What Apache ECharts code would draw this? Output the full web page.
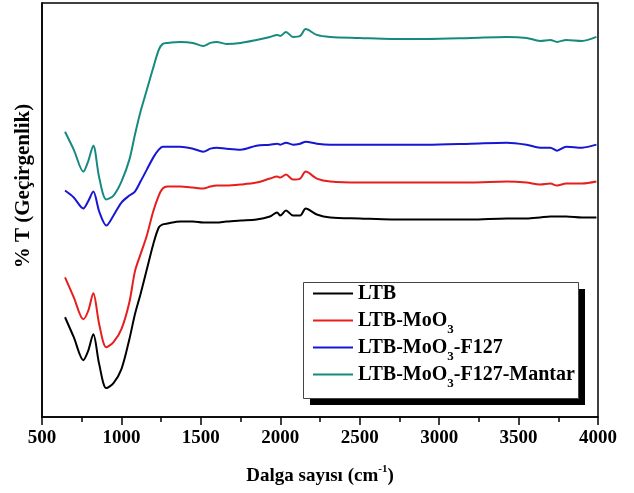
<!DOCTYPE html>
<html lang="tr">
<head>
    <meta charset="UTF-8">
    <title>FTIR</title>
    <script src="https://cdn.jsdelivr.net/npm/echarts@6/dist/echarts.min.js"></script>
</head>
<body style="margin:0;background:#fff;">
    <div id="main" style="width: 634px;height:493px;"></div>
    <script type="text/javascript">
       // dalga sayisi (cm-1)
       var wavenumbers = [645, 700, 760, 790, 823, 860, 905, 950, 1000, 1050, 1085, 1120, 1160, 1200, 1235, 1260, 1290, 1370, 1450, 1515,
                          1560, 1600, 1660, 1750, 1850, 1935, 1980, 2000, 2036, 2080, 2125, 2160, 2230, 2315, 2500, 2700, 2920, 3200,
                          3425, 3550, 3635, 3700, 3742, 3800, 3900, 3990];

       // % T, kaydirilmis (birimsiz)
       var ltb = [100, 80, 57, 66, 83, 53, 29, 34, 48, 78, 103, 123, 148, 173, 190, 193, 194, 196, 196, 195,
                  195, 195, 196, 197, 198, 201, 205, 202, 207, 202, 202, 209, 203, 200, 199, 198, 198, 198,
                  199, 199, 200, 201, 201, 201, 200, 200];
       var ltbMoO3 = [140, 120, 98, 106, 124, 93, 70, 75, 88, 115, 146, 163, 182, 206, 222, 229, 231, 231, 230, 229,
                      231, 232, 232, 233, 235, 239, 241, 240, 243, 238, 239, 246, 239, 236, 235, 235, 235, 235,
                      236, 235, 233, 234, 232, 234, 234, 236];
       var ltbMoO3F127 = [227, 220, 209, 216, 226, 206, 192, 202, 215, 222, 226, 236, 248, 260, 268, 271, 271, 271, 269, 266,
                          269, 270, 269, 268, 272, 273, 274, 273, 275, 273, 274, 276, 274, 273, 273, 273, 273, 274,
                          275, 273, 270, 270, 267, 271, 270, 273];
       var ltbMoO3F127Mantar = [286, 268, 246, 256, 272, 240, 218, 222, 236, 258, 283, 306, 328, 350, 368, 374, 375, 376, 375, 372,
                                375, 376, 374, 375, 378, 381, 383, 382, 386, 381, 382, 389, 383, 381, 380, 379, 379, 380,
                                381, 380, 377, 378, 376, 378, 377, 381];

       var names = ['LTB', 'LTB-MoO3', 'LTB-MoO3-F127', 'LTB-MoO3-F127-Mantar'];
       var colors = ['#000000', '#e61e1e', '#1616d4', '#178a80'];
       var values = [ltb, ltbMoO3, ltbMoO3F127, ltbMoO3F127Mantar];

       var font = 'Liberation Serif';

       function pairs(ys) {
           var out = [];
           for (var i = 0; i < wavenumbers.length; i++) {
               out.push([wavenumbers[i], ys[i]]);
           }
           return out;
       }

       var series = [];
       for (var i = 0; i < names.length; i++) {
           series.push({
               name: names[i],
               type: 'line',
               data: pairs(values[i]),
               smooth: 0.3,
               showSymbol: false,
               lineStyle: {color: colors[i], width: 2},
               itemStyle: {color: colors[i]}
           });
       }

       var myChart = echarts.init(document.getElementById("main"));

       var option = {
           animation: false,
           backgroundColor: '#fff',
           grid: {
               left: 42, right: 36, top: 3, bottom: 75,
               show: true, borderColor: '#000', borderWidth: 1.5
           },
           legend: {
               orient: 'vertical',
               left: 313, top: 278,
               data: names,
               icon: 'rect',
               itemWidth: 40, itemHeight: 2,
               itemGap: -4,
               padding: 0,
               formatter: function (n) {
                   return n.replace(/O3/, 'O{sub|3}');
               },
               textStyle: {
                   fontFamily: font, fontWeight: 'bold', fontSize: 20, color: '#000', lineHeight: 31,
                   rich: {
                       // alt indis: padding ile asagi kaydir
                       sub: {fontFamily: font, fontWeight: 'bold', fontSize: 13, lineHeight: 20, padding: [18, 0, 0, 0], color: '#000'}
                   }
               }
           },
           xAxis: {
               type: 'value',
               min: 500, max: 4000, interval: 500,
               name: 'Dalga sayısı (cm{sup|-1})',
               nameLocation: 'middle',
               nameGap: 47,
               nameTextStyle: {
                   fontFamily: font, fontWeight: 'bold', fontSize: 19, color: '#000', lineHeight: 24,
                   rich: {
                       sup: {fontFamily: font, fontWeight: 'bold', fontSize: 11, lineHeight: 24, verticalAlign: 'top', color: '#000'}
                   }
               },
               axisLine: {lineStyle: {color: '#000', width: 1.5}},
               axisTick: {length: 8, lineStyle: {color: '#000', width: 1.5}},
               minorTick: {show: true, splitNumber: 2, length: 5, lineStyle: {color: '#000', width: 1.5}},
               axisLabel: {
                   fontFamily: font, fontWeight: 'bold', fontSize: 19, color: '#000', margin: 12,
                   formatter: function (v) { return String(v); }
               },
               splitLine: {show: false}
           },
           yAxis: {
               type: 'value',
               min: 0, max: 415,
               axisLine: {show: true, lineStyle: {color: '#000', width: 1.5}},
               axisTick: {show: false},
               axisLabel: {show: false},
               splitLine: {show: false}
           },
           graphic: [{
               // lejant golgesi
               type: 'rect', z: 3,
               shape: {x: 310, y: 289, width: 275, height: 116},
               style: {fill: '#000'}
           }, {
               type: 'rect', z: 3,
               shape: {x: 303.5, y: 282.5, width: 275, height: 116},
               style: {fill: '#fff', stroke: '#444', lineWidth: 1}
           }, {
               type: 'text',
               x: 24, y: 186,
               rotation: Math.PI / 2,
               style: {
                   text: '% T (Geçirgenlik)',
                   font: 'bold 21px "Liberation Serif"',
                   fill: '#000',
                   align: 'center',
                   verticalAlign: 'middle'
               }
           }],
           series: series
       };

       myChart.setOption(option);
    </script>
</body>
</html>
